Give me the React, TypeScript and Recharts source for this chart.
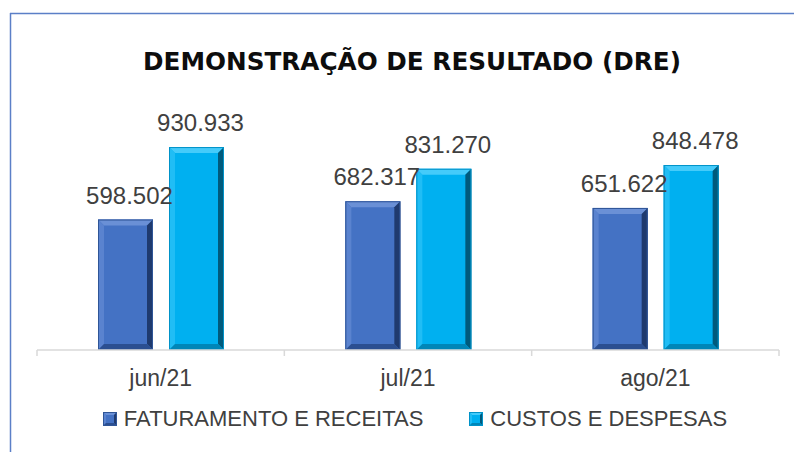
import React from "react";
import { BarChart, Bar, XAxis, YAxis, LabelList } from "recharts";

const months = ["jun/21", "jul/21", "ago/21"];
const faturamento = [598502, 682317, 651622];
const custos = [930933, 831270, 848478];
const seriesNames = ["FATURAMENTO E RECEITAS", "CUSTOS E DESPESAS"];
const title = "DEMONSTRAÇÃO DE RESULTADO (DRE)";

const data = months.map((m, i) => ({ month: m, fat: faturamento[i], cus: custos[i] }));

const W = 794;
const H = 452;
const M = { top: 132, right: 15, bottom: 72, left: 37 };
const XAXIS_H = 30;
const PLOT_BOTTOM = H - M.bottom - XAXIS_H;
const BAND = (W - M.left - M.right) / months.length;
const FONT = "'Liberation Sans', Arial, sans-serif";
const TEXT = "#404040";

const palette = {
  fat: { face: "#4472C4", top: "#6A90D6", left: "#5A83CF", right: "#1F3A6E", bottom: "#2B4F91", border: "#2F5597" },
  cus: { face: "#00B0F0", top: "#45CBFA", left: "#20BDF5", right: "#005A7C", bottom: "#0086B8", border: "#0092C8" },
};

const fmt = (v: number) => String(Math.round(v)).replace(/\B(?=(\d{3})+(?!\d))/g, ".");

function Bevel({ x, y, width, height, c, b }: any) {
  const x2 = x + width;
  const y2 = y + height;
  return (
    <g>
      <rect x={x} y={y} width={width} height={height} fill={c.face} />
      <polygon points={`${x},${y} ${x2},${y} ${x2 - b},${y + b} ${x + b},${y + b}`} fill={c.top} />
      <polygon points={`${x},${y} ${x + b},${y + b} ${x + b},${y2 - b} ${x},${y2}`} fill={c.left} />
      <polygon points={`${x2},${y} ${x2},${y2} ${x2 - b},${y2 - b} ${x2 - b},${y + b}`} fill={c.right} />
      <polygon points={`${x},${y2} ${x + b},${y2 - b} ${x2 - b},${y2 - b} ${x2},${y2}`} fill={c.bottom} />
      <rect x={x + 0.5} y={y + 0.5} width={width - 1} height={height - 1} fill="none" stroke={c.border} strokeWidth={1} />
    </g>
  );
}

const makeShape = (key: "fat" | "cus") => (props: any) => (
  <Bevel x={props.x} y={props.y} width={props.width} height={props.height} c={palette[key]} b={6} />
);

const ValueLabel = (props: any) => {
  const { x, y, width, value } = props;
  return (
    <text x={x + width / 2 + 4} y={y - 16} textAnchor="middle" fontSize={24} fontFamily={FONT} fill={TEXT}>
      {fmt(value)}
    </text>
  );
};

const Tick = (props: any) => {
  const { x, payload, index } = props;
  const left = x - BAND / 2;
  const right = x + BAND / 2;
  return (
    <g>
      <line x1={left} x2={left} y1={PLOT_BOTTOM} y2={PLOT_BOTTOM + 6} stroke="#D9D9D9" strokeWidth={1.5} />
      {index === months.length - 1 && (
        <line x1={right} x2={right} y1={PLOT_BOTTOM} y2={PLOT_BOTTOM + 6} stroke="#D9D9D9" strokeWidth={1.5} />
      )}
      <text x={x} y={PLOT_BOTTOM + 36} textAnchor="middle" fontSize={23} fontFamily={FONT} fill={TEXT}>
        {payload.value}
      </text>
    </g>
  );
};

function LegendIcon({ k }: { k: "fat" | "cus" }) {
  return (
    <svg width={14} height={14} style={{ display: "block" }}>
      <Bevel x={0} y={0} width={14} height={14} c={palette[k]} b={3} />
    </svg>
  );
}

export default function App() {
  return (
    <div style={{ position: "absolute", left: 0, top: 0, width: W, height: H, background: "#fff" }}>
      <BarChart width={W} height={H} data={data} margin={M} barSize={55} barGap={16}>
        <XAxis
          dataKey="month"
          height={XAXIS_H}
          axisLine={{ stroke: "#D9D9D9", strokeWidth: 1.5 }}
          tickLine={false}
          tick={<Tick />}
          interval={0}
        />
        <YAxis hide domain={[0, 1000000]} />
        <Bar dataKey="fat" name={seriesNames[0]} isAnimationActive={false} shape={makeShape("fat")}>
          <LabelList dataKey="fat" content={<ValueLabel />} />
        </Bar>
        <Bar dataKey="cus" name={seriesNames[1]} isAnimationActive={false} shape={makeShape("cus")}>
          <LabelList dataKey="cus" content={<ValueLabel />} />
        </Bar>
      </BarChart>
      <svg width={W} height={H} style={{ position: "absolute", left: 0, top: 0, pointerEvents: "none" }}>
        <line x1={10} y1={13.5} x2={W} y2={13.5} stroke="#5B7FC7" strokeWidth={1.5} />
        <line x1={10.5} y1={13} x2={10.5} y2={H} stroke="#5B7FC7" strokeWidth={1.5} />
        <text
          x={412}
          y={70}
          textAnchor="middle"
          fontSize={25}
          fontWeight="bold"
          fontFamily="'DejaVu Sans', sans-serif"
          fill="#0D0D0D"
          textLength={538}
          lengthAdjust="spacingAndGlyphs"
        >
          {title}
        </text>
      </svg>
      <div
        style={{
          position: "absolute",
          left: 0,
          top: 405,
          width: W,
          display: "flex",
          justifyContent: "center",
          alignItems: "center",
          fontFamily: FONT,
          fontSize: 22,
          color: TEXT,
          paddingLeft: 36,
          boxSizing: "border-box",
        }}
      >
        {seriesNames.map((n, i) => (
          <div key={n} style={{ display: "flex", alignItems: "center", marginRight: i === 0 ? 46 : 0 }}>
            <LegendIcon k={i === 0 ? "fat" : "cus"} />
            <span style={{ marginLeft: 7, lineHeight: "28px" }}>{n}</span>
          </div>
        ))}
      </div>
    </div>
  );
}
